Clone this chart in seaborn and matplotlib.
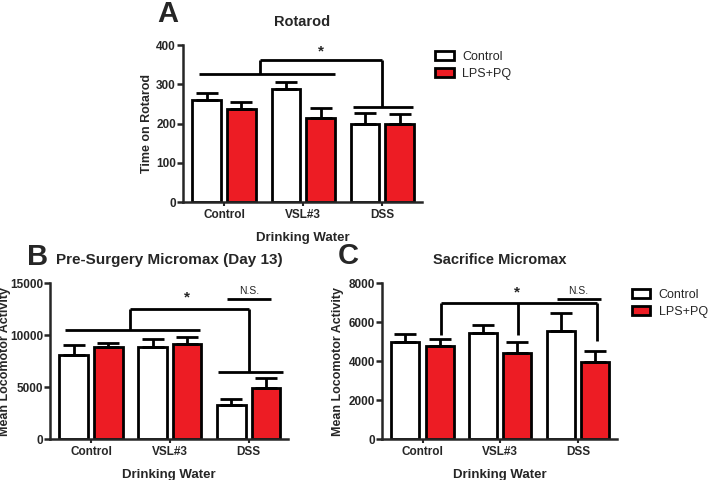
import matplotlib
matplotlib.use("Agg")
import matplotlib.pyplot as plt
import seaborn as sns
import pandas as pd
from matplotlib.patches import Patch

sns.set_style("white")
plt.rcParams['font.family'] = ['Liberation Sans', 'DejaVu Sans']

### data
water = ["Control", "VSL#3", "DSS"]
groups = ["Control", "LPS+PQ"]
red = "#ED1C24"

# means per water type for each group, and SEM (upper bar only)
rot_ctrl = [260, 288, 198]
rot_lps = [237, 213, 198]
rot_ctrl_sem = [17, 17, 30]
rot_lps_sem = [18, 27, 27]

pre_ctrl = [8100, 8850, 3250]
pre_lps = [8800, 9100, 4900]
pre_ctrl_sem = [900, 750, 550]
pre_lps_sem = [400, 700, 950]

sac_ctrl = [4950, 5430, 5530]
sac_lps = [4750, 4400, 3950]
sac_ctrl_sem = [450, 420, 920]
sac_lps_sem = [400, 600, 550]


def long_df(ctrl, lps):
    rows = []
    for w, c, l in zip(water, ctrl, lps):
        rows.append([w, "Control", c])
        rows.append([w, "LPS+PQ", l])
    return pd.DataFrame(rows, columns=["Water", "Group", "Mean"])


def draw_panel(ax, ctrl, lps, ctrl_sem, lps_sem, ymax, yticks, ylabel, title,
               ylab_x, xlab_y, title_size):
    df = long_df(ctrl, lps)
    sns.barplot(data=df, x="Water", y="Mean", hue="Group", order=water, hue_order=groups,
                palette={"Control": "white", "LPS+PQ": red}, saturation=1, edgecolor="black",
                linewidth=2, width=0.88, gap=0.18, errorbar=None, legend=False, ax=ax)
    # upper error bars, patches come out per hue level
    sems = ctrl_sem + lps_sem
    for p, s in zip(ax.patches, sems):
        xc = p.get_x() + p.get_width() / 2
        top = p.get_height()
        ax.errorbar([xc], [top], yerr=[[0], [s]], fmt="none", ecolor="black",
                    elinewidth=2, capsize=8, capthick=2, zorder=1)
    ax.set_ylim(0, ymax)
    ax.set_yticks(yticks)
    ax.set_xlim(-0.52, 2.5)
    sns.despine(ax=ax)
    for sp in ["left", "bottom"]:
        ax.spines[sp].set_linewidth(1.8)
    ax.tick_params(axis="y", direction="out", length=4, width=1.8, left=True, pad=1)
    ax.tick_params(axis="x", direction="out", length=3, width=1.5, bottom=True, pad=2)
    for lab in ax.get_xticklabels() + ax.get_yticklabels():
        lab.set_fontweight("bold")
        lab.set_fontsize(8.5)
    ax.set_xlabel("Drinking Water", fontsize=9.5, fontweight="bold")
    ax.xaxis.set_label_coords(0.5, xlab_y)
    ax.set_ylabel(ylabel, fontsize=9, fontweight="bold")
    ax.yaxis.set_label_coords(ylab_x, 0.5)
    ax.set_title(title, fontsize=title_size, fontweight="bold", pad=14)


def hline(ax, x0, x1, y):
    ax.plot([x0, x1], [y, y], color="black", lw=2, clip_on=False, solid_capstyle="butt")


def vline(ax, x, y0, y1):
    ax.plot([x, x], [y0, y1], color="black", lw=2, clip_on=False, solid_capstyle="butt")


fig = plt.figure(figsize=(7.09, 4.80), dpi=100)
axA = fig.add_axes([0.258, 0.579, 0.337, 0.327])
axB = fig.add_axes([0.0705, 0.0854, 0.336, 0.325])
axC = fig.add_axes([0.539, 0.0854, 0.331, 0.325])

draw_panel(axA, rot_ctrl, rot_lps, rot_ctrl_sem, rot_lps_sem, 400, [0, 100, 200, 300, 400],
           "Time on Rotarod", "Rotarod", -0.126, -0.19, 10.5)
draw_panel(axB, pre_ctrl, pre_lps, pre_ctrl_sem, pre_lps_sem, 15000, [0, 5000, 10000, 15000],
           "Mean Locomotor Activity", "Pre-Surgery Micromax (Day 13)", -0.164, -0.192, 11)
draw_panel(axC, sac_ctrl, sac_lps, sac_ctrl_sem, sac_lps_sem, 8000, [0, 2000, 4000, 6000, 8000],
           "Mean Locomotor Activity", "Sacrifice Micromax", -0.162, -0.192, 10.5)

# significance brackets, panel A
hline(axA, -0.32, 1.40, 326)
hline(axA, 1.63, 2.39, 242)
hline(axA, 0.46, 1.99, 362)
vline(axA, 0.46, 326, 362)
vline(axA, 1.99, 242, 362)
axA.text(1.22, 366, "*", ha="center", va="bottom", fontsize=11, fontweight="bold")

# panel B
hline(axB, -0.33, 1.38, 10450)
hline(axB, 1.61, 2.43, 6430)
hline(axB, 0.50, 2.00, 12500)
vline(axB, 0.50, 10450, 12500)
vline(axB, 2.00, 6430, 12500)
axB.text(1.22, 12900, "*", ha="center", va="bottom", fontsize=11, fontweight="bold")
hline(axB, 1.73, 2.28, 13500)
axB.text(2.0, 13750, "N.S.", ha="center", va="bottom", fontsize=7.5)

# panel C
hline(axC, 0.24, 2.24, 6980)
vline(axC, 0.24, 5320, 6980)
vline(axC, 1.23, 5320, 6980)
vline(axC, 2.24, 5030, 6980)
axC.text(1.21, 7150, "*", ha="center", va="bottom", fontsize=11, fontweight="bold")
hline(axC, 1.73, 2.29, 7200)
axC.text(2.0, 7330, "N.S.", ha="center", va="bottom", fontsize=7.5)

# legends
handles = [Patch(facecolor="white", edgecolor="black", linewidth=2, label="Control"),
           Patch(facecolor=red, edgecolor="black", linewidth=2, label="LPS+PQ")]
for anchor in [(0.614, 0.894), (0.891, 0.398)]:
    fig.legend(handles=handles, loc="upper left", bbox_to_anchor=anchor, frameon=False,
               fontsize=9, handlelength=1.5, handleheight=0.75, handletextpad=0.65,
               labelspacing=0.4, borderpad=0, borderaxespad=0)

# panel letters
fig.text(0.222, 0.970, "A", fontsize=21, fontweight="bold", ha="left", va="center")
fig.text(0.038, 0.465, "B", fontsize=21, fontweight="bold", ha="left", va="center")
fig.text(0.477, 0.467, "C", fontsize=21, fontweight="bold", ha="left", va="center")

fig.savefig("out.png", dpi=100)
